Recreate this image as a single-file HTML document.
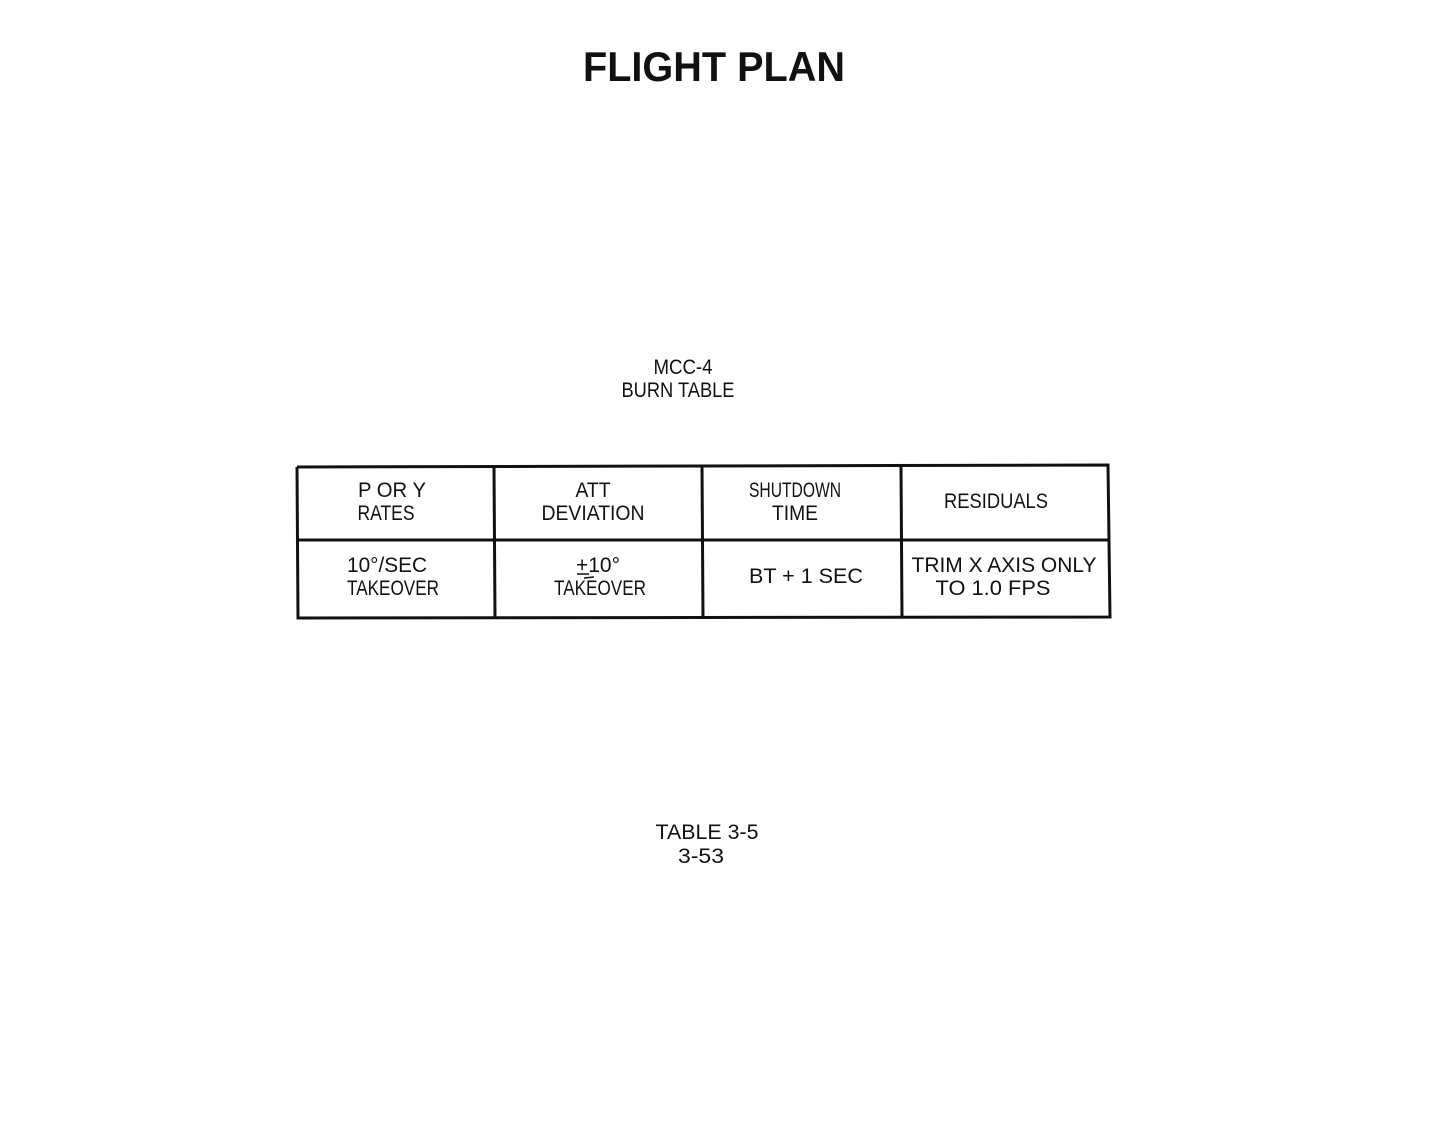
<!DOCTYPE html>
<html><head><style>body{margin:0;background:#fff}svg{display:block}</style></head><body>
<svg width="1451" height="1136" viewBox="0 0 1451 1136" xmlns="http://www.w3.org/2000/svg">
<rect width="1451" height="1136" fill="#fff"/>
<text x="583" y="81" font-family="Liberation Sans" font-weight="bold" font-size="42" textLength="262" lengthAdjust="spacingAndGlyphs" fill="#111">FLIGHT PLAN</text>
<g font-family="Liberation Sans" font-size="21" fill="#111" text-anchor="middle">
<text x="683" y="374" textLength="59" lengthAdjust="spacingAndGlyphs">MCC-4</text>
<text x="678" y="397" textLength="113" lengthAdjust="spacingAndGlyphs">BURN TABLE</text>
<text x="392" y="497" textLength="68" lengthAdjust="spacingAndGlyphs">P OR Y</text>
<text x="386" y="520" textLength="57" lengthAdjust="spacingAndGlyphs">RATES</text>
<text x="593" y="497" textLength="35" lengthAdjust="spacingAndGlyphs">ATT</text>
<text x="593" y="520" textLength="103" lengthAdjust="spacingAndGlyphs">DEVIATION</text>
<text x="795" y="497" textLength="92" lengthAdjust="spacingAndGlyphs">SHUTDOWN</text>
<text x="795" y="520" textLength="46" lengthAdjust="spacingAndGlyphs">TIME</text>
<text x="996" y="508" textLength="104" lengthAdjust="spacingAndGlyphs">RESIDUALS</text>
<text x="387" y="572" textLength="80" lengthAdjust="spacingAndGlyphs">10°/SEC</text>
<text x="393" y="595" textLength="92" lengthAdjust="spacingAndGlyphs">TAKEOVER</text>
<text x="598" y="572" textLength="44" lengthAdjust="spacingAndGlyphs">+10°</text>
<text x="600" y="595" textLength="92" lengthAdjust="spacingAndGlyphs">TAKEOVER</text>
<text x="806" y="583" textLength="114" lengthAdjust="spacingAndGlyphs">BT + 1 SEC</text>
<text x="1004" y="572" textLength="185" lengthAdjust="spacingAndGlyphs">TRIM X AXIS ONLY</text>
<text x="993" y="595" textLength="115" lengthAdjust="spacingAndGlyphs">TO 1.0 FPS</text>
<text x="707" y="839" textLength="103" lengthAdjust="spacingAndGlyphs">TABLE 3-5</text>
<text x="701" y="863" textLength="46" lengthAdjust="spacingAndGlyphs">3-53</text>
</g>
<line x1="577" y1="574" x2="589" y2="574" stroke="#111" stroke-width="1.5"/>
<line x1="584" y1="578" x2="594" y2="577" stroke="#111" stroke-width="1.5"/>
<g stroke="#111" stroke-width="3" fill="none">
<polyline points="297,467 1108,465 1110,617 298,618 297,467"/>
<line x1="297" y1="540" x2="1110" y2="540"/>
<line x1="494" y1="467" x2="495" y2="618"/>
<line x1="702" y1="466" x2="703" y2="617"/>
<line x1="901" y1="466" x2="902" y2="617"/>
</g>
</svg>
</body></html>
